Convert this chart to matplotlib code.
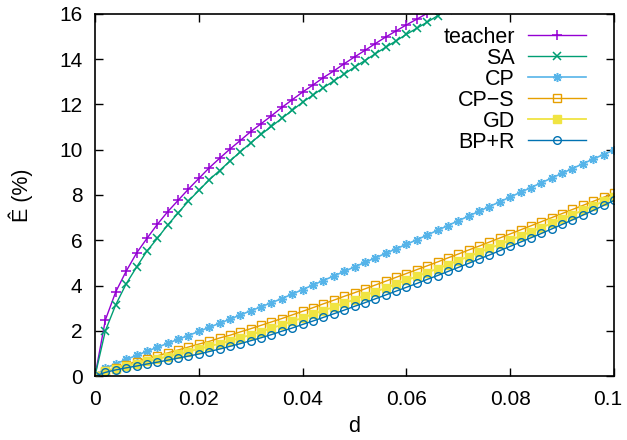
import numpy as np
import matplotlib
matplotlib.use('Agg')
import matplotlib.pyplot as plt
import matplotlib.transforms as mtransforms

plt.rcParams['font.family'] = ['Liberation Sans', 'DejaVu Sans']

# d-grid (step 0.002)
d = np.round(np.arange(51) * 0.002, 3)

# series values (%)
teacher = [0, 2.48, 3.72, 4.63, 5.43, 6.08, 6.70, 7.26, 7.76, 8.26, 8.73,
           9.20, 9.62, 10.03, 10.41, 10.80, 11.15, 11.50, 11.87, 12.21, 12.55,
           12.86, 13.19, 13.48, 13.80, 14.10, 14.39, 14.69, 14.98, 15.25, 15.52,
           15.77, 16.03, 16.29]
sa = [0, 2.00, 3.15, 4.07, 4.81, 5.52, 6.08, 6.67, 7.20, 7.73, 8.20,
      8.67, 9.08, 9.50, 9.91, 10.30, 10.68, 11.03, 11.39, 11.74, 12.10,
      12.42, 12.74, 13.04, 13.34, 13.65, 13.94, 14.24, 14.53, 14.81, 15.10,
      15.37, 15.64, 15.92, 16.19]
cp = [0, 0.35, 0.54, 0.73, 0.91, 1.09, 1.27, 1.44, 1.62, 1.79, 1.97,
      2.15, 2.33, 2.51, 2.70, 2.88, 3.06, 3.24, 3.42, 3.62, 3.82,
      4.02, 4.22, 4.42, 4.62, 4.82, 5.02, 5.22, 5.42, 5.62, 5.82,
      6.02, 6.23, 6.44, 6.65, 6.86, 7.07, 7.28, 7.49, 7.70, 7.91,
      8.12, 8.33, 8.54, 8.75, 8.96, 9.17, 9.38, 9.59, 9.79, 9.99]
cps = [0, 0.20, 0.35, 0.50, 0.64, 0.77, 0.89, 1.02, 1.15, 1.28, 1.41,
       1.53, 1.68, 1.80, 1.95, 2.09, 2.24, 2.39, 2.54, 2.70, 2.86,
       3.02, 3.19, 3.35, 3.52, 3.68, 3.85, 4.02, 4.19, 4.36, 4.53,
       4.70, 4.87, 5.04, 5.22, 5.39, 5.57, 5.74, 5.92, 6.10, 6.28,
       6.46, 6.64, 6.82, 7.00, 7.18, 7.36, 7.54, 7.72, 7.90, 8.08]
gd = [0, 0.20, 0.31, 0.43, 0.55, 0.65, 0.75, 0.86, 0.97, 1.08, 1.20,
      1.31, 1.43, 1.55, 1.68, 1.82, 1.96, 2.11, 2.26, 2.41, 2.57,
      2.73, 2.89, 3.05, 3.22, 3.38, 3.55, 3.72, 3.89, 4.06, 4.23,
      4.40, 4.57, 4.74, 4.92, 5.10, 5.28, 5.46, 5.64, 5.82, 6.01,
      6.19, 6.38, 6.56, 6.75, 6.94, 7.13, 7.32, 7.52, 7.72, 7.92]
bpr = [0, 0.16, 0.27, 0.36, 0.44, 0.53, 0.61, 0.70, 0.79, 0.88, 0.97,
       1.08, 1.19, 1.31, 1.43, 1.56, 1.69, 1.83, 1.98, 2.12, 2.28,
       2.43, 2.59, 2.75, 2.91, 3.08, 3.24, 3.41, 3.58, 3.75, 3.92,
       4.09, 4.27, 4.44, 4.62, 4.80, 4.98, 5.17, 5.35, 5.54, 5.73,
       5.92, 6.11, 6.30, 6.50, 6.70, 6.90, 7.11, 7.32, 7.54, 7.76]

labels = ['teacher', 'SA', 'CP', 'CP\u2212S', 'GD', 'BP+R']
xticks = [0, 0.02, 0.04, 0.06, 0.08, 0.1]
xtick_labels = ['0', '0.02', '0.04', '0.06', '0.08', '0.1']
yticks = [0, 2, 4, 6, 8, 10, 12, 14, 16]

fs = 15.5
fig = plt.figure(figsize=(6.27, 4.4), dpi=100)
ax = fig.add_axes([95 / 627, 1 - 376 / 440, (614 - 95) / 627, (376 - 14) / 440])

ms = 5.5
ax.plot(d[:len(teacher)], teacher, color='#9400D3', lw=1, marker='+', ms=6.5, mew=1.1, label=labels[0])
ax.plot(d[:len(sa)], sa, color='#009E73', lw=1, marker='x', ms=5.5, mew=1.1, label=labels[1])
ax.plot(d, cp, color='#56B4E9', lw=1.2, marker=(8, 2, 0), ms=6.5, mew=1.1, label=labels[2])
ax.plot(d, cps, color='#E69F00', lw=1, marker='s', ms=ms, mew=1.0, mfc='none', label=labels[3])
ax.plot(d, gd, color='#F0E442', lw=1.3, marker='s', ms=ms, mew=1.0, label=labels[4])
ax.plot(d, bpr, color='#0072B2', lw=1, marker='o', ms=ms, mew=1.0, mfc='none', label=labels[5])

ax.set_xlim(0, 0.1)
ax.set_ylim(0, 16)
ax.set_xticks(xticks)
ax.set_xticklabels(xtick_labels)
ax.set_yticks(yticks)
ax.tick_params(direction='in', length=6, width=1, top=True, right=True,
               labelsize=15)
ax.tick_params(axis='x', pad=10)
ax.tick_params(axis='y', pad=9)
for s in ax.spines.values():
    s.set_linewidth(1.2)

# last x label sits a bit inside the figure edge, like the original
last = ax.get_xticklabels()[-1]
last.set_transform(last.get_transform() +
                   mtransforms.ScaledTranslation(-6 / 100, 0, fig.dpi_scale_trans))

ax.set_xlabel('d', fontsize=fs, labelpad=5)
ax.set_ylabel('\u00ca (%)', fontsize=fs, labelpad=19)

leg = ax.legend(loc='upper right', bbox_to_anchor=(0.946, 0.965), frameon=False,
                markerfirst=False, fontsize=fs, handlelength=2.7,
                handletextpad=0.6, labelspacing=0.0, borderpad=0,
                borderaxespad=0, numpoints=1)

fig.savefig('out.png', dpi=100)
